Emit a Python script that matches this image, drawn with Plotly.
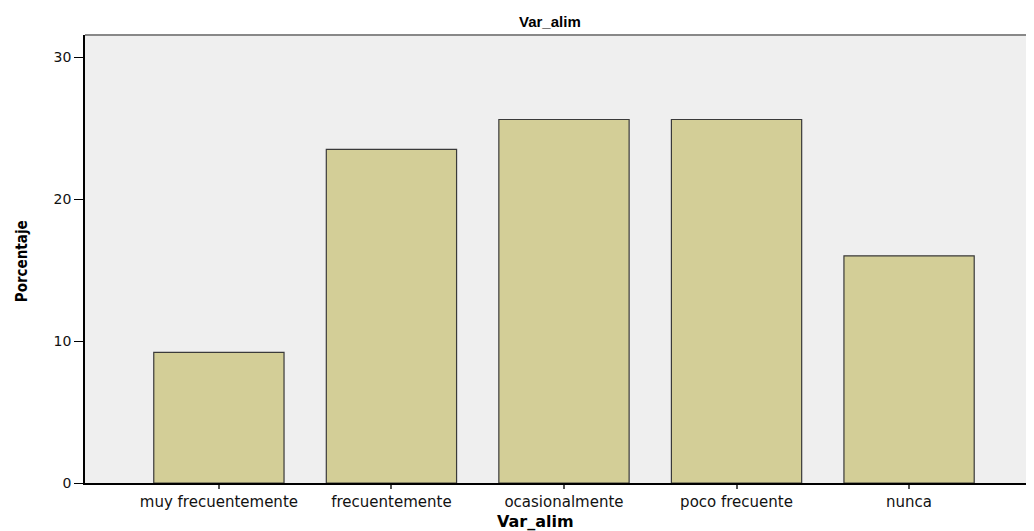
import plotly.graph_objects as go

categorias = ["muy frecuentemente", "frecuentemente", "ocasionalmente", "poco frecuente", "nunca"]
porcentajes = [9.2, 23.5, 25.6, 25.6, 16.0]
y_ticks = [0, 10, 20, 30]

fig = go.Figure()

fig.add_trace(go.Bar(
    x=list(range(len(categorias))),
    y=porcentajes,
    width=0.755,
    marker=dict(color="#D3CE97", line=dict(color="#3a3a3a", width=1.2)),
    hoverinfo="y",
))

# the page body adds an 8px offset, so the figure is sized to fit the window
fig.update_layout(
    width=1026,
    height=523,
    margin=dict(l=77, r=0, t=27, b=48),
    paper_bgcolor="white",
    plot_bgcolor="#EFEFEF",
    showlegend=False,
    font=dict(family="DejaVu Sans", size=14, color="#111"),
    xaxis=dict(
        tickmode="array",
        tickvals=list(range(len(categorias))),
        ticktext=categorias,
        range=[-0.776, 4.724],
        showline=True, linecolor="black", linewidth=1.5,
        ticks="outside", ticklen=4, tickcolor="#555", tickwidth=2,
        tickfont=dict(size=15),
        showgrid=False, zeroline=False,
    ),
    yaxis=dict(
        tickvals=y_ticks,
        range=[0, 31.55],
        showline=True, linecolor="black", linewidth=1.5,
        ticks="outside", ticklen=9, tickcolor="black", tickwidth=1,
        tickfont=dict(size=14),
        showgrid=False, zeroline=False,
    ),
)

fig.add_annotation(text="<b>Var_alim</b>", xref="paper", yref="paper",
                   x=0.49, y=1, yshift=14, xanchor="center", yanchor="middle",
                   showarrow=False, font=dict(family="Liberation Sans", size=15, color="black"))
fig.add_annotation(text="<b>Var_alim</b>", xref="paper", yref="paper",
                   x=0.475, y=0, yshift=-38, xanchor="center", yanchor="middle",
                   showarrow=False, font=dict(family="DejaVu Sans", size=16, color="black"))
fig.add_annotation(text="<b>Porcentaje</b>", xref="paper", yref="paper",
                   x=0, xshift=-63, y=0.495, xanchor="center", yanchor="middle", textangle=-90,
                   showarrow=False, font=dict(family="DejaVu Sans Condensed", size=15, color="black"))

# top border of the plot area
fig.add_shape(type="line", xref="paper", yref="paper", x0=0, x1=1, y0=1, y1=1,
              line=dict(color="#888", width=2))

fig.write_html("out.html")
